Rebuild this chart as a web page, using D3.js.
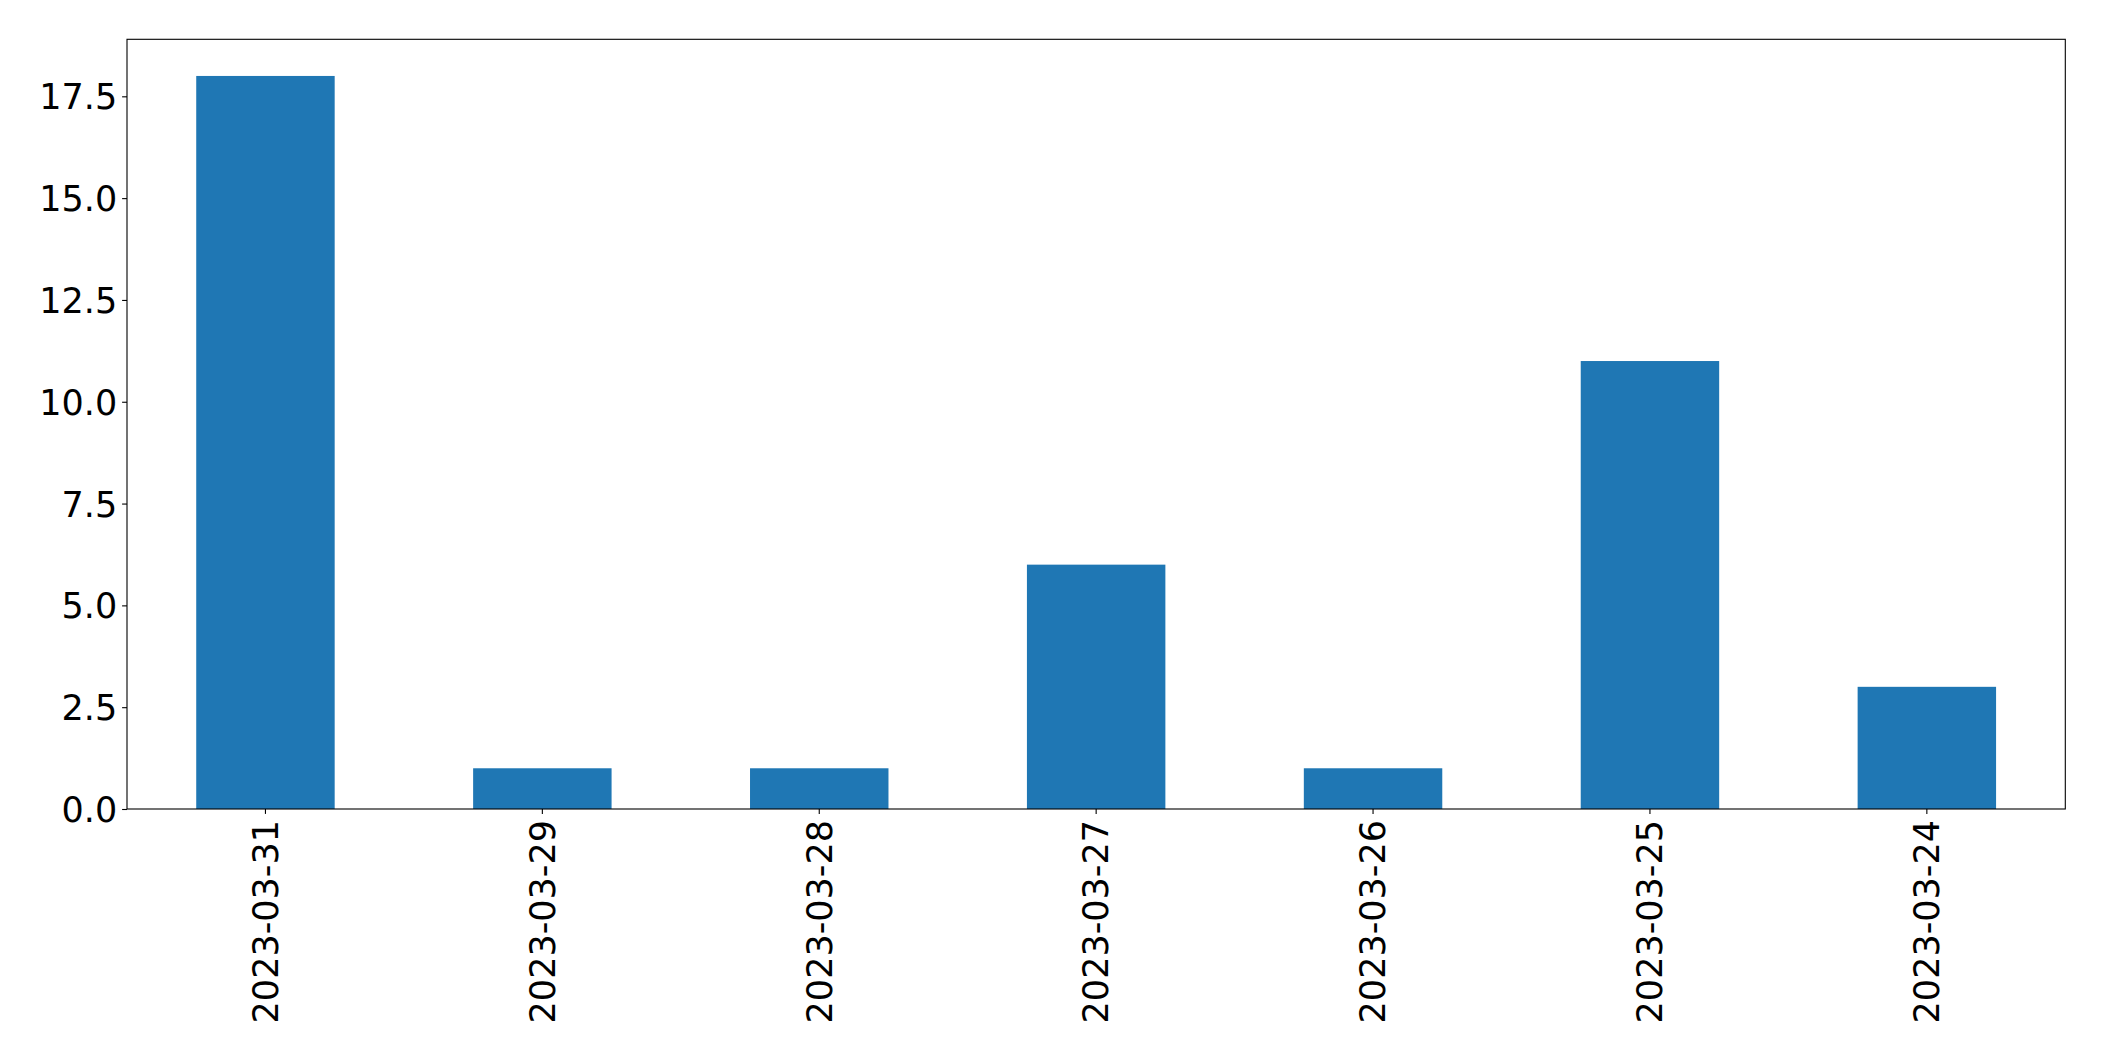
<!DOCTYPE html>
<html><head><meta charset="utf-8">
<script src="https://cdn.jsdelivr.net/npm/d3@7"></script>
<style>html,body{margin:0;padding:0;background:#fff;}svg{display:block;}</style>
</head><body>
<script>
const categories = ["2023-03-31","2023-03-29","2023-03-28","2023-03-27","2023-03-26","2023-03-25","2023-03-24"];
const values = [18, 1, 1, 6, 1, 11, 3];
const yTicks = [0, 2.5, 5, 7.5, 10, 12.5, 15, 17.5];

const W = 2104, H = 1061;
const m = {left: 127, right: 2065.3, top: 39.3, bottom: 809};
const svg = d3.select("body").append("svg").attr("width", W).attr("height", H);
const font = "DejaVu Sans";
const fs = 35;

const x = d3.scaleBand().domain(categories).range([m.left, m.right]).paddingInner(0.5).paddingOuter(0.25);
const y = d3.scaleLinear().domain([0, d3.max(values) * 1.05]).range([m.bottom, m.top]);

svg.append("g").selectAll("rect").data(values).join("rect")
  .attr("x", (d, i) => x(categories[i]))
  .attr("width", x.bandwidth())
  .attr("y", d => y(d))
  .attr("height", d => y(0) - y(d))
  .attr("fill", "#1f77b4");

const yAxis = svg.append("g").attr("transform", `translate(${m.left},0)`)
  .call(d3.axisLeft(y).tickValues(yTicks).tickFormat(d3.format(".1f")).tickSize(4.9).tickPadding(4.9));
yAxis.select(".domain").remove();
yAxis.selectAll("line").attr("stroke", "#000").attr("stroke-width", 1.1);
yAxis.selectAll("text").attr("font-family", font).attr("font-size", fs).attr("fill", "#000").attr("dy", "0.36em");

const xAxis = svg.append("g").attr("transform", `translate(0,${m.bottom})`)
  .call(d3.axisBottom(x).tickSize(4.9).tickPadding(0));
xAxis.select(".domain").remove();
xAxis.selectAll("line").attr("stroke", "#000").attr("stroke-width", 1.1);
xAxis.selectAll("text")
  .attr("font-family", font).attr("font-size", fs).attr("fill", "#000")
  .attr("text-anchor", "end")
  .attr("transform", "translate(0,11) rotate(-90)")
  .attr("x", 0).attr("y", 0).attr("dy", "0.35em");

svg.append("rect")
  .attr("x", m.left).attr("y", m.top)
  .attr("width", m.right - m.left).attr("height", m.bottom - m.top)
  .attr("fill", "none").attr("stroke", "#000").attr("stroke-width", 1.1);
</script>
</body></html>
